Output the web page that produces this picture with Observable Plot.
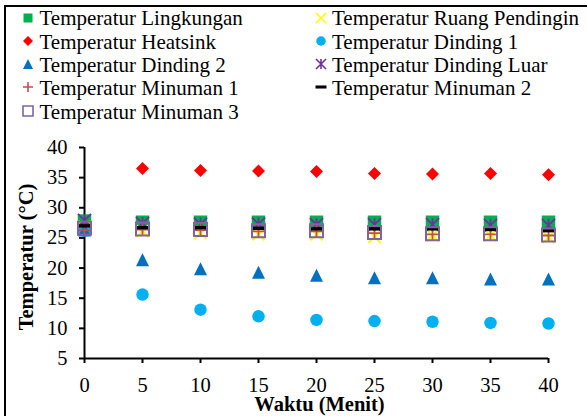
<!DOCTYPE html>
<html><head><meta charset="utf-8">
<script src="https://cdn.jsdelivr.net/npm/d3@7"></script>
<script src="https://cdn.jsdelivr.net/npm/@observablehq/plot@0.6"></script>
<style>
html,body{margin:0;padding:0;background:#fff;}
body{width:587px;height:416px;overflow:hidden;position:relative;font-family:"Liberation Serif","Times New Roman",serif;}
#frame{position:absolute;left:4px;top:5px;width:700px;height:500px;border-left:2px solid #000;border-top:2px solid #000;pointer-events:none;}
#legend{position:relative;height:130px;}
.item{position:absolute;font-size:21px;line-height:23.3px;white-space:nowrap;color:#000;}
.sw{position:absolute;overflow:visible;}
#chart svg{display:block;}
</style></head><body>
<div id="legend"></div><div id="chart"></div><div id="frame"></div>
<script>
// ---- data ----
const minutes = [0, 5, 10, 15, 20, 25, 30, 35, 40];
const seriesNames = ["Temperatur Lingkungan", "Temperatur Ruang Pendingin", "Temperatur Heatsink", "Temperatur Dinding 1", "Temperatur Dinding 2", "Temperatur Dinding Luar", "Temperatur Minuman 1", "Temperatur Minuman 2", "Temperatur Minuman 3"];
const lingkungan   = [27.8, 27.6, 27.6, 27.6, 27.6, 27.6, 27.6, 27.6, 27.6];
const ruangPendingin = [26.8, 26.1, 25.8, 25.6, 25.6, 25.2, 25.4, 25.4, 25.1];
const heatsink     = [27.0, 36.5, 36.2, 36.1, 36.0, 35.7, 35.6, 35.7, 35.5];
const dinding1     = [26.2, 15.6, 13.1, 12.0, 11.4, 11.2, 11.1, 10.9, 10.8];
const dinding2     = [26.3, 21.4, 19.9, 19.3, 18.8, 18.4, 18.4, 18.2, 18.2];
const dindingLuar  = [27.9, 27.4, 27.3, 27.3, 27.2, 27.2, 27.2, 27.1, 27.1];
const minuman1     = [26.3, 26.4, 26.3, 26.1, 26.1, 25.8, 25.6, 25.6, 25.4];
const minuman2     = [27.0, 26.7, 26.7, 26.6, 26.5, 26.5, 26.5, 26.4, 26.2];
const minuman3     = [26.6, 26.5, 26.4, 26.2, 26.2, 25.9, 25.7, 25.7, 25.5];
const xTicks = [0, 5, 10, 15, 20, 25, 30, 35, 40];
const yTicks = [5, 10, 15, 20, 25, 30, 35, 40];
const xTitle = "Waktu (Menit)";
const yTitle = "Temperatur (°C)";

// ---- marker shapes ----
const sym = {
  square: {draw(c, s) { const w = Math.sqrt(s); c.rect(-w / 2, -w / 2, w, w); }},
  diamond: {draw(c, s) { const h = Math.sqrt(s) / 2; c.moveTo(0, -h); c.lineTo(h, 0); c.lineTo(0, h); c.lineTo(-h, 0); c.closePath(); }},
  circle: {draw(c, s) { const r = Math.sqrt(s) / 2; c.moveTo(r, 0); c.arc(0, 0, r, 0, 2 * Math.PI); }},
  triangle: {draw(c, s) { const h = Math.sqrt(s) / 2; c.moveTo(0, -h); c.lineTo(h, h); c.lineTo(-h, h); c.closePath(); }},
  times: {draw(c, s) { const h = Math.sqrt(s) / 2; c.moveTo(-h, -h); c.lineTo(h, h); c.moveTo(-h, h); c.lineTo(h, -h); }},
  star: {draw(c, s) { const h = Math.sqrt(s) / 2; c.moveTo(-h, -h); c.lineTo(h, h); c.moveTo(-h, h); c.lineTo(h, -h); c.moveTo(0, -h); c.lineTo(0, h); }},
  plus: {draw(c, s) { const h = Math.sqrt(s) / 2; c.moveTo(-h, 0); c.lineTo(h, 0); c.moveTo(0, -h); c.lineTo(0, h); }},
  dash: {draw(c, s) { const w = Math.sqrt(s); c.rect(-w / 2, -w * 0.14, w, w * 0.28); }}
};

const values = [lingkungan, ruangPendingin, heatsink, dinding1, dinding2, dindingLuar, minuman1, minuman2, minuman3];
const styles = [
  {symbol: sym.square,   w: 13.5, lw: 9,  fill: "#00B050", stroke: "none", sw: 0},
  {symbol: sym.times,    w: 12,   lw: 10, fill: "none", stroke: "#FFFF00", sw: 2},
  {symbol: sym.diamond,  w: 13,   lw: 10, fill: "#FF0000", stroke: "none", sw: 0},
  {symbol: sym.circle,   w: 12.5, lw: 9.5, fill: "#00B0F0", stroke: "none", sw: 0},
  {symbol: sym.triangle, w: 13,   lw: 10, fill: "#0070C0", stroke: "none", sw: 0},
  {symbol: sym.star,     w: 13,   lw: 10, fill: "none", stroke: "#7030A0", sw: 1.8},
  {symbol: sym.plus,     w: 13,   lw: 10, fill: "none", stroke: "#C0504D", sw: 1.8},
  {symbol: sym.dash,     w: 12,   lw: 11, fill: "#000000", stroke: "none", sw: 0},
  {symbol: sym.square,   w: 13,   lw: 10, fill: "none", stroke: "#8064A2", sw: 2}
];

// ---- legend ----
const legend = document.getElementById("legend");
seriesNames.forEach((name, k) => {
  const row = Math.floor(k / 2), col = k % 2;
  const top = 7.3 + row * 23.3;
  const textX = col === 0 ? 39.5 : 332;
  const swX = col === 0 ? 27.5 : 321;
  const st = styles[k];
  const div = document.createElement("div");
  div.className = "item";
  div.style.left = textX + "px";
  div.style.top = top + "px";
  div.textContent = name;
  legend.appendChild(div);
  const svg = d3.select(legend).append("svg").attr("class", "sw")
    .attr("width", 16).attr("height", 16)
    .style("left", (swX - 8) + "px").style("top", (top + 10.2 - 8) + "px");
  svg.append("path")
    .attr("transform", "translate(8,8)")
    .attr("d", d3.symbol().type(st.symbol).size(st.lw * st.lw)())
    .attr("fill", st.fill).attr("stroke", st.stroke).attr("stroke-width", st.sw ? Math.min(st.sw, 1.6) : null);
});

// ---- chart ----
const dotMarks = values.map((vals, k) => {
  const st = styles[k];
  const rows = minutes.map((t, i) => ({t, v: vals[i]}));
  return Plot.dot(rows, {
    x: "t", y: "v", symbol: st.symbol, r: st.w / Math.sqrt(Math.PI),
    fill: st.fill, stroke: st.stroke, strokeWidth: st.sw || undefined
  });
});

const plot = Plot.plot({
  width: 587, height: 286,
  marginTop: 17, marginBottom: 58, marginLeft: 84, marginRight: 39,
  style: {fontFamily: "'Liberation Serif', 'Times New Roman', serif", fontSize: "20.5px", color: "#000", background: "transparent", overflow: "visible"},
  x: {domain: [0, 40]},
  y: {domain: [5, 40]},
  marks: [
    Plot.axisX({ticks: xTicks, tickSize: 5, tickPadding: 14, strokeWidth: 2, label: null, tickFormat: d => String(d), fill: "#000"}),
    Plot.axisY({ticks: yTicks, tickSize: 5, tickPadding: 12, strokeWidth: 2, label: null, tickFormat: d => String(d), fill: "#000"}),
    Plot.ruleX([0], {y1: 5, y2: 40, strokeWidth: 2, stroke: "#000"}),
    Plot.ruleY([5], {x1: 0, x2: 40, strokeWidth: 2, stroke: "#000"}),
    ...dotMarks,
    Plot.text([xTitle], {text: d => d, frameAnchor: "bottom", lineAnchor: "middle", textAnchor: "middle", dy: 45.5, dx: 3, fontWeight: "bold", fontSize: 20.5, fill: "#000"}),
    Plot.text([yTitle], {text: d => d, frameAnchor: "left", rotate: -90, lineAnchor: "top", textAnchor: "middle", dx: -66, dy: 4, fontWeight: "bold", fontSize: 20.5, fill: "#000"})
  ]
});
document.getElementById("chart").appendChild(plot);
</script>
</body></html>
